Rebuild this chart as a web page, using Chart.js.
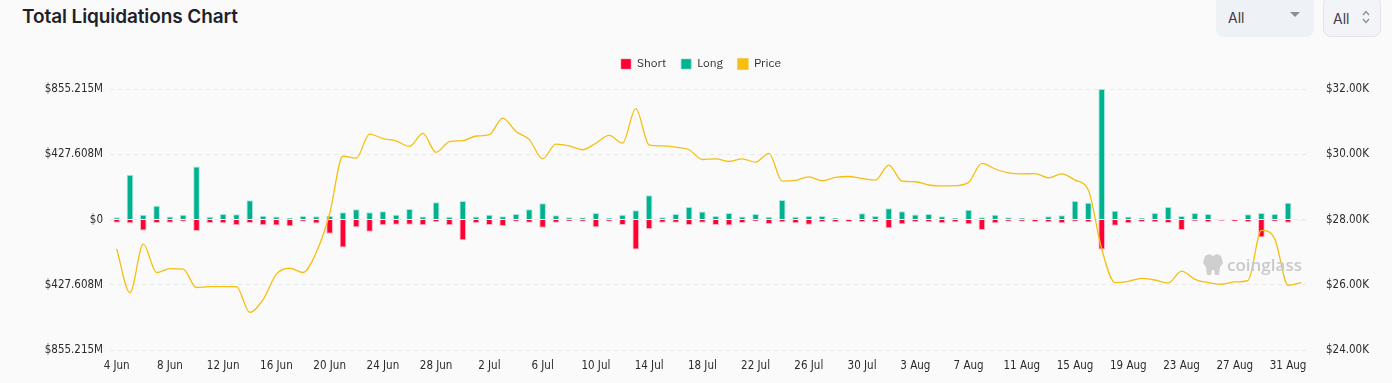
<!DOCTYPE html>
<html>
<head>
<meta charset="utf-8">
<script src="https://cdn.jsdelivr.net/npm/chart.js@4.4.1/dist/chart.umd.min.js"></script>
<style>
  html, body { margin:0; padding:0; background:#fafafa; width:1392px; height:383px; overflow:hidden; }
  #title { position:absolute; left:22px; top:5px; font-family:Inter, "Noto Sans", sans-serif; font-weight:600; font-size:19px; color:#1f1f2b; letter-spacing:-0.1px; }
  .sel { position:absolute; top:-4px; height:41px; border-radius:8px; box-sizing:border-box; font-family:Inter, "Noto Sans", sans-serif; font-size:14px; color:#3c3c4a; }
  #sel1 { left:1216px; width:98px; background:#eef1f6; }
  #sel2 { left:1323px; width:58px; background:#f2f4f8; border:1px solid #e2e5eb; }
  .sel span { position:absolute; top:13px; }
  #wrap { position:absolute; left:0; top:43px; width:1392px; height:340px; }
  #wm { position:absolute; left:1201px; top:251px; font-family:"Open Sans", "Noto Sans", sans-serif; font-weight:600; font-size:17px; color:#c9c9c9; }
</style>
</head>
<body>
<div id="title">Total Liquidations Chart</div>
<div class="sel" id="sel1"><span style="left:12px">All</span>
  <svg style="position:absolute;left:74px;top:16px" width="10" height="6"><path d="M0 0 L10 0 L5 5 Z" fill="#8a8d98"/></svg></div>
<div class="sel" id="sel2"><span style="left:9px">All</span>
  <svg style="position:absolute;left:38px;top:12px" width="8" height="16"><path d="M1 6 L4 2.5 L7 6 M1 10 L4 13.5 L7 10" stroke="#8a8d98" stroke-width="1.2" fill="none"/></svg></div>
<div id="wrap"><canvas id="c"></canvas></div>
<div id="wm"><svg width="24" height="25" style="vertical-align:-5px;margin-right:2px"><path d="M4 5 L8 3 L12 5 L16 3 L20 5 L22 12 L19 16 L18 24 L14 24 L13 19 L11 19 L10 24 L6 24 L5 16 L2 12 Z" fill="#cfcfcf"/></svg>coinglass</div>
<script>
const categories = [
 '4 Jun','5 Jun','6 Jun','7 Jun','8 Jun','9 Jun','10 Jun','11 Jun','12 Jun','13 Jun','14 Jun','15 Jun','16 Jun','17 Jun','18 Jun','19 Jun','20 Jun','21 Jun','22 Jun','23 Jun','24 Jun','25 Jun','26 Jun','27 Jun','28 Jun','29 Jun','30 Jun',
 '1 Jul','2 Jul','3 Jul','4 Jul','5 Jul','6 Jul','7 Jul','8 Jul','9 Jul','10 Jul','11 Jul','12 Jul','13 Jul','14 Jul','15 Jul','16 Jul','17 Jul','18 Jul','19 Jul','20 Jul','21 Jul','22 Jul','23 Jul','24 Jul','25 Jul','26 Jul','27 Jul','28 Jul','29 Jul','30 Jul','31 Jul',
 '1 Aug','2 Aug','3 Aug','4 Aug','5 Aug','6 Aug','7 Aug','8 Aug','9 Aug','10 Aug','11 Aug','12 Aug','13 Aug','14 Aug','15 Aug','16 Aug','17 Aug','18 Aug','19 Aug','20 Aug','21 Aug','22 Aug','23 Aug','24 Aug','25 Aug','26 Aug','27 Aug','28 Aug','29 Aug','30 Aug','31 Aug','1 Sep'];

// Long liquidations (USD millions, positive)
const longM = [
 15,294,31,90,20,31,347,18,37,35,127,26,20,11,24,22,26,48,68,48,55,31,70,20,114,18,121,
 20,31,22,37,68,107,28,15,13,44,11,31,61,160,15,37,83,53,24,44,20,37,18,129,18,24,24,11,5,42,24,
 75,55,33,37,22,11,64,15,31,15,11,7,22,28,121,110,855,58,20,11,44,83,24,44,37,4,4,35,44,37,110,4];

// Short liquidations (USD millions, drawn negative)
const shortM = [
 20,24,72,22,20,13,75,22,24,37,22,37,39,44,13,26,92,182,50,79,37,33,33,37,15,37,136,
 22,35,42,13,20,53,20,11,13,50,13,35,195,61,20,20,35,20,35,39,22,11,28,18,24,33,15,18,15,15,18,
 57,31,15,15,24,18,31,68,24,13,13,15,18,24,13,18,196,40,24,15,18,22,68,9,18,7,11,15,116,11,20,4];

// BTC price (USD thousands)
const priceK = [
 27.10,25.76,27.25,26.38,26.50,26.48,25.92,25.95,25.95,25.95,25.16,25.55,26.33,26.51,26.38,27.00,28.18,29.94,29.88,30.62,30.48,30.41,30.24,30.64,30.06,30.39,30.42,
 30.56,30.60,31.11,30.70,30.45,29.86,30.31,30.26,30.14,30.34,30.58,30.34,31.40,30.29,30.26,30.22,30.14,29.84,29.86,29.78,29.86,29.76,30.03,29.18,29.20,29.31,29.19,29.29,29.32,29.26,29.21,
 29.67,29.18,29.16,29.06,29.03,29.04,29.14,29.72,29.55,29.43,29.40,29.41,29.28,29.40,29.21,28.90,27.10,26.07,26.11,26.20,26.15,26.06,26.42,26.17,26.07,26.02,26.09,26.14,27.67,27.41,25.99,26.07];

const leftTicks = [-855.215e6, -427.608e6, 0, 427.608e6, 855.215e6];
const rightTicks = [24000, 26000, 28000, 30000, 32000];

const RED = '#ff0034', GREEN = '#00b190', GOLD = '#f5bf12';
const tickFont = { family: '"Liberation Sans Narrow", "DejaVu Sans Condensed", sans-serif', size: 11.5 };

new Chart(document.getElementById('c'), {
  data: {
    labels: categories,
    datasets: [
      { type:'bar', label:'Short', data: shortM.map(v => -v*1e6), backgroundColor: RED, borderColor:'rgba(255,120,150,0.55)', borderWidth:1, yAxisID:'y', stack:'s', barPercentage:0.5, categoryPercentage:1, order:2 },
      { type:'bar', label:'Long', data: longM.map(v => v*1e6), backgroundColor: GREEN, borderColor:'rgba(110,220,200,0.6)', borderWidth:1, yAxisID:'y', stack:'s', barPercentage:0.5, categoryPercentage:1, order:2 },
      { type:'line', label:'Price', data: priceK.map(v => v*1000), borderColor: GOLD, backgroundColor: GOLD, borderWidth:1.3, pointRadius:0, tension:0.4, cubicInterpolationMode:'monotone', yAxisID:'y1', order:1 }
    ]
  },
  options: {
    responsive:true, maintainAspectRatio:false, animation:false,
    layout: { padding: { left:10, right:0, top:0, bottom:9 } },
    plugins: {
      legend: { position:'top', align:'center',
        labels: { boxWidth:10, boxHeight:10, padding:15, color:'#333', font:{ family:'"IBM Plex Sans", Roboto, "Noto Sans", sans-serif', size:12 },
          sort: (a, b) => a.datasetIndex - b.datasetIndex } },
      tooltip: { enabled:false }
    },
    scales: {
      x: { stacked:true, offset:true,
        grid: { display:false }, border: { display:false },
        ticks: { autoSkip:false, maxRotation:0, color:'#2b2b2b', font:tickFont, padding:1,
          callback: function(v, i) { return i % 4 === 0 ? categories[i] : ''; } } },
      y: { position:'left', stacked:true, min:-855.215e6, max:855.215e6,
        afterBuildTicks: a => { a.ticks = leftTicks.map(v => ({ value:v })); },
        afterFit: a => { a.width = 100; },
        grid: { color:'#e9e9e9', drawTicks:false, lineWidth:1 }, border: { display:false, dash:[4,4] },
        ticks: { color:'#2b2b2b', font:tickFont, padding:7,
          callback: v => v === 0 ? '$0' : '$' + (Math.abs(v)/1e6).toFixed(3) + 'M' } },
      y1: { position:'right', min:24000, max:32000,
        afterBuildTicks: a => { a.ticks = rightTicks.map(v => ({ value:v })); },
        afterFit: a => { a.width = 84; },
        grid: { display:false }, border: { display:false },
        ticks: { color:'#2b2b2b', font:tickFont, padding:10,
          callback: v => '$' + (v/1000).toFixed(2) + 'K' } }
    }
  },
  plugins: [{
    id:'legendGap',
    beforeInit(chart) {
      const lg = chart.legend;
      const fit = lg.fit;
      lg.fit = function() { fit.call(lg); lg.height += 9; };
    }
  }]
});
</script>
</body>
</html>
